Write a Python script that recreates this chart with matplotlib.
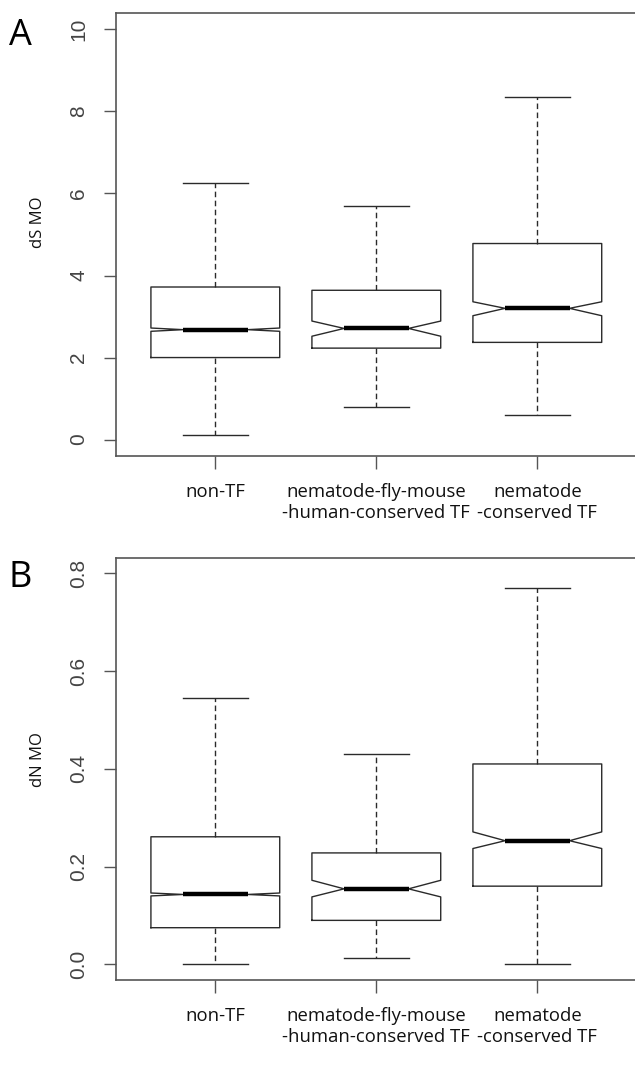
import matplotlib
matplotlib.use('Agg')
import matplotlib.pyplot as plt

# Categorías (eje x)
categorias = ['non-TF', 'nematode-fly-mouse\n-human-conserved TF', 'nematode\n-conserved TF']

# Panel A: dS MO
ds_whislo = [0.10, 0.79, 0.61]
ds_q1 = [2.00, 2.23, 2.37]
ds_med = [2.68, 2.71, 3.20]
ds_q3 = [3.72, 3.64, 4.78]
ds_whishi = [6.25, 5.70, 8.35]
ds_cilo = [2.64, 2.52, 3.02]
ds_cihi = [2.72, 2.89, 3.36]

# Panel B: dN MO
dn_whislo = [0.000, 0.014, 0.000]
dn_q1 = [0.075, 0.090, 0.160]
dn_med = [0.143, 0.1545, 0.253]
dn_q3 = [0.261, 0.228, 0.410]
dn_whishi = [0.544, 0.431, 0.769]
dn_cilo = [0.140, 0.138, 0.237]
dn_cihi = [0.146, 0.172, 0.271]

W, H = 635, 1069
fig = plt.figure(figsize=(W / 100, H / 100), dpi=100)

color_linea = '#2a2a2a'
color_eje = '#555555'


def armar_stats(whislo, q1, med, q3, whishi, cilo, cihi):
    stats = []
    for i in range(len(med)):
        stats.append({'whislo': whislo[i], 'q1': q1[i], 'med': med[i], 'q3': q3[i],
                      'whishi': whishi[i], 'cilo': cilo[i], 'cihi': cihi[i], 'fliers': []})
    return stats


def dibujar_panel(rect, stats, ylim, ticks, ticklabels, ylabel, label_y, letra, letra_y):
    ax = fig.add_axes(rect)
    ax.bxp(stats, positions=[1, 2, 3], widths=0.8, shownotches=True, showfliers=False,
           capwidths=0.4,
           boxprops=dict(color=color_linea, linewidth=1.0),
           whiskerprops=dict(color=color_linea, linewidth=1.0, linestyle=(0, (4, 2.5))),
           capprops=dict(color=color_linea, linewidth=1.0),
           medianprops=dict(color='black', linewidth=3.2, solid_capstyle='butt'))
    ax.set_xlim(0.38, 3.62)
    ax.set_ylim(*ylim)
    ax.set_yticks(ticks)
    ax.set_yticklabels(ticklabels, rotation=90, va='center', fontsize=15,
                       family=['Liberation Sans Narrow', 'Liberation Sans'], color='#444444')
    ax.set_xticks([1, 2, 3])
    ax.set_xticklabels(categorias, fontsize=13.3, family='Open Sans', color='#111111',
                       linespacing=1.25)
    ax.tick_params(axis='y', length=8.6, width=1.0, color=color_eje, pad=11)
    ax.tick_params(axis='x', length=9.4, width=1.0, color=color_eje, pad=10)
    for lado in ['left', 'top', 'bottom']:
        ax.spines[lado].set_color(color_eje)
        ax.spines[lado].set_linewidth(1.2)
    ax.spines['right'].set_visible(False)
    ax.set_ylabel(ylabel, fontsize=12, family='Open Sans', color='#111111')
    ax.yaxis.set_label_coords((46 - 115.5) / (rect[2] * W), label_y)
    fig.text(9 / W, 1 - letra_y / H, letra, fontsize=26, family='Open Sans',
             va='center', ha='left')
    return ax


ancho = 3.24 * 161 / W
izq = 115.5 / W

dibujar_panel([izq, 1 - 456 / H, ancho, (456 - 13) / H],
              armar_stats(ds_whislo, ds_q1, ds_med, ds_q3, ds_whishi, ds_cilo, ds_cihi),
              (-0.4, 10.4), [0, 2, 4, 6, 8, 10], ['0', '2', '4', '6', '8', '10'],
              'dS MO', 0.527, 'A', 36)

dibujar_panel([izq, 1 - 980 / H, ancho, (980 - 557.7) / H],
              armar_stats(dn_whislo, dn_q1, dn_med, dn_q3, dn_whishi, dn_cilo, dn_cihi),
              (-0.032, 0.832), [0.0, 0.2, 0.4, 0.6, 0.8], ['0.0', '0.2', '0.4', '0.6', '0.8'],
              'dN MO', 0.521, 'B', 578)

fig.savefig('out.png', dpi=100)
